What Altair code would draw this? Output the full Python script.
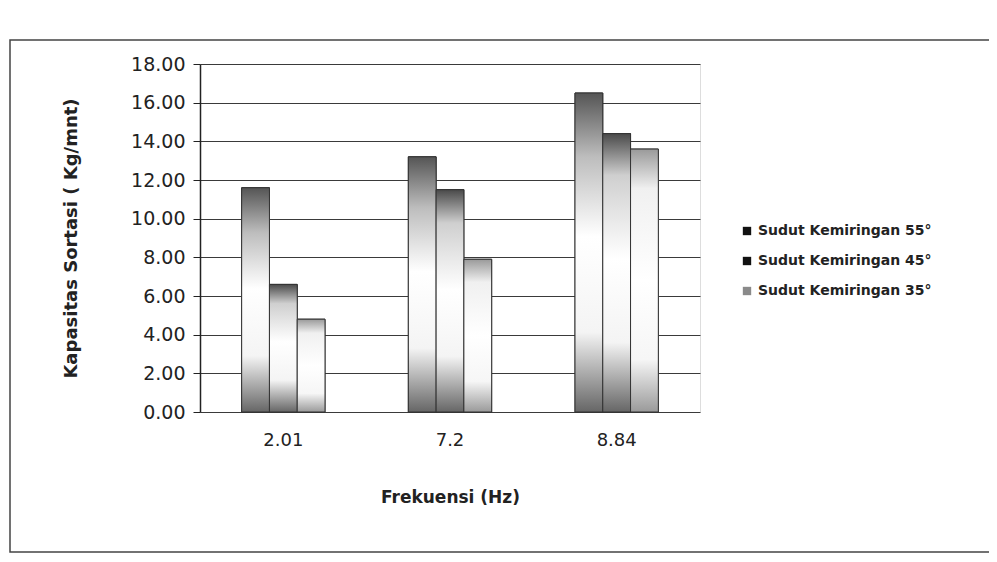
import altair as alt
import pandas as pd

# ---- data ----
freq = ["2.01", "7.2", "8.84"]
series = ["Sudut Kemiringan 55°", "Sudut Kemiringan 45°", "Sudut Kemiringan 35°"]
v55 = [11.6, 13.2, 16.5]
v45 = [6.6, 11.5, 14.4]
v35 = [4.8, 7.9, 13.6]
legend_colors = ["#111111", "#111111", "#8a8a8a"]
y_ticks = [0, 2, 4, 6, 8, 10, 12, 14, 16, 18]

rows = []
for s, vals in zip(series, [v55, v45, v35]):
    for f, v in zip(freq, vals):
        rows.append({"freq": f, "series": s, "value": v})
df = pd.DataFrame(rows)

FONT = "DejaVu Sans"

x_enc = alt.X("freq:N", sort=freq,
              scale=alt.Scale(paddingInner=0.5, paddingOuter=0.25),
              axis=alt.Axis(title="Frekuensi (Hz)", labelAngle=0, ticks=False,
                            domain=False, labelPadding=19, titlePadding=40,
                            labelFontSize=18, titleFontSize=17,
                            labelColor="#222", titleColor="#222",
                            labelFont=FONT, titleFont=FONT,
                            labelFontWeight="normal", titleFontWeight="bold"))
xoff = alt.XOffset("series:N", scale=alt.Scale(domain=series, paddingInner=0, paddingOuter=0))
y_enc = alt.Y("value:Q",
              scale=alt.Scale(domain=[0, 18], nice=False),
              axis=alt.Axis(title="Kapasitas Sortasi ( Kg/mnt)", values=y_ticks,
                            format=".2f", grid=True, gridColor="#3a3a3a",
                            gridWidth=1.2, domainColor="#222", domainWidth=1.5,
                            tickColor="#222", tickSize=7, labelPadding=8,
                            labelFontSize=19, titleFontSize=18, titlePadding=50,
                            labelColor="#222", titleColor="#222",
                            labelFont=FONT, titleFont=FONT,
                            titleFontWeight="bold"))

base = alt.Chart(df).mark_bar(stroke="#333", strokeWidth=1).encode(
    x=x_enc, xOffset=xoff, y=y_enc,
    color=alt.Color("series:N",
                    scale=alt.Scale(domain=series, range=legend_colors),
                    legend=alt.Legend(title=None, orient="none", legendX=540,
                                      legendY=160, symbolType="square",
                                      symbolSize=70, symbolStrokeWidth=0,
                                      labelFontSize=14, labelFont=FONT,
                                      labelFontWeight="bold", labelColor="#222",
                                      rowPadding=16, labelLimit=300)),
)

grads = {
    series[0]: [("#555555", 0), ("#bdbdbd", 0.2), ("#ffffff", 0.45),
                ("#f4f4f4", 0.75), ("#666666", 1)],
    series[1]: [("#4a4a4a", 0), ("#cfcfcf", 0.15), ("#ffffff", 0.45),
                ("#f4f4f4", 0.75), ("#666666", 1)],
    series[2]: [("#9a9a9a", 0), ("#f0f0f0", 0.15), ("#ffffff", 0.5),
                ("#f6f6f6", 0.8), ("#9a9a9a", 1)],
}

layers = [base]
for s in series:
    g = alt.Gradient(gradient="linear",
                     stops=[alt.GradientStop(color=c, offset=o) for c, o in grads[s]],
                     x1=0, x2=0, y1=0, y2=1)
    layers.append(
        alt.Chart(df).transform_filter(alt.datum.series == s)
        .mark_bar(color=g, stroke="#333", strokeWidth=1)
        .encode(x=x_enc, xOffset=xoff, y=y_enc)
    )

frame = alt.Chart(pd.DataFrame({"a": [0]})).mark_rect(
    fillOpacity=0, stroke="#444", strokeWidth=1.5
).encode(x=alt.value(-190), x2=alt.value(820), y=alt.value(-24), y2=alt.value(488))

chart = alt.layer(frame, *layers).properties(
    width=500, height=348,
    autosize=alt.AutoSizeParams(type="none"),
    padding={"left": 192, "top": 56, "right": 289, "bottom": 142},
).configure_view(stroke=None).configure(background="white")

chart.save("out.html", embed_options={"renderer": "svg", "actions": False})
